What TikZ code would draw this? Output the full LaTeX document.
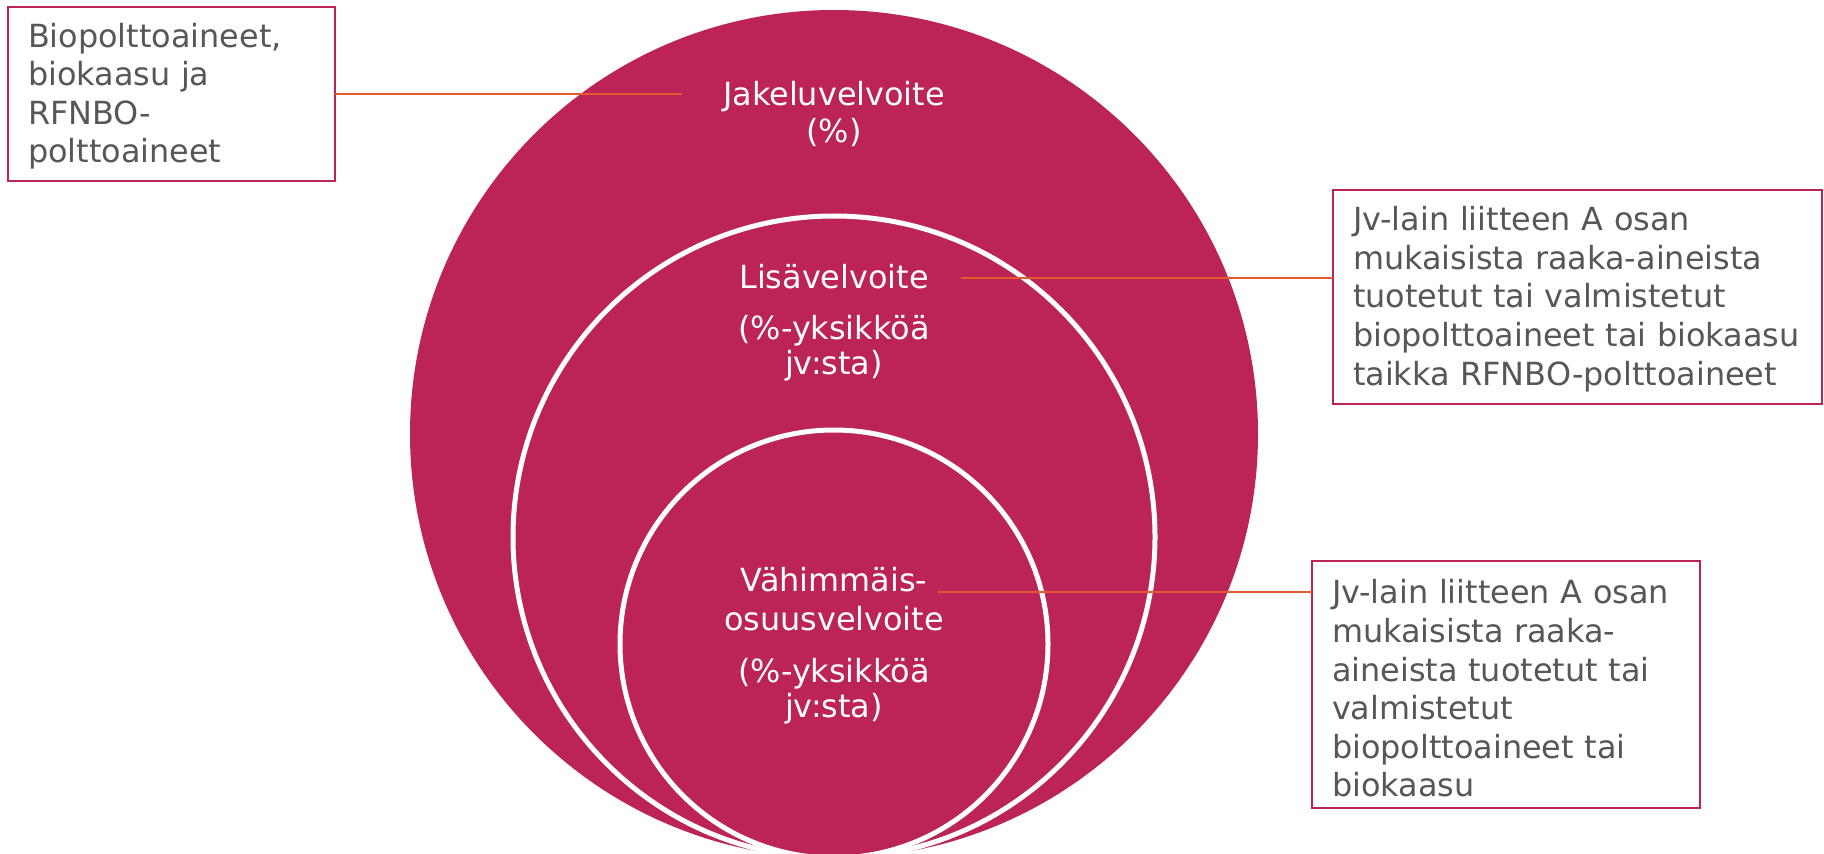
\documentclass[tikz,border=0pt]{standalone}
\usepackage{fontspec}
\setmainfont{DejaVu Sans}
\definecolor{mag}{RGB}{188,35,87}
\definecolor{org}{RGB}{228,90,40}
\definecolor{txt}{RGB}{87,87,87}
\begin{document}
\begin{tikzpicture}[x=1bp,y=-1bp,
  ring/.style={draw=white,line width=5bp},
  lbl/.style={text=white,font=\fontsize{32}{38}\selectfont,inner sep=0pt,anchor=base},
  infobox/.style={draw=mag,line width=2.2bp,fill=white,text=txt,font=\fontsize{32}{38.7}\selectfont,align=left,inner xsep=20bp,inner ysep=0pt,outer sep=0pt,anchor=north west},
  conn/.style={draw=org,line width=2.5bp}]
\useasboundingbox (0,0) rectangle (1824,854);
\clip (0,0) rectangle (1824,854);
\fill[mag] (834,434) circle[radius=424bp];
\draw[ring] (834,537) circle[radius=321bp];
\draw[ring] (834,644) circle[radius=214bp];

\node[lbl] (j1) at (834,105) {Jakeluvelvoite};
\node[lbl] (j2) at (834,142) {(\%)};
\node[lbl] (l1) at (834,288) {Lisävelvoite};
\node[lbl] (l2) at (834,339) {(\%-yksikköä};
\node[lbl] (l3) at (834,374) {jv:sta)};
\node[lbl] (v1) at (834,591) {Vähimmäis-};
\node[lbl] (v2) at (834,630) {osuusvelvoite};
\node[lbl] (v3) at (834,682) {(\%-yksikköä};
\node[lbl] (v4) at (834,717) {jv:sta)};

\node[infobox,text width=287bp,minimum height=174bp] (b1) at (8,7)
  {\rule{0pt}{28.5bp}\mbox{Biopolttoaineet,}\\\mbox{biokaasu ja}\\\mbox{RFNBO-}\\\mbox{polttoaineet}};
\node[infobox,text width=449bp,minimum height=214bp] (b2) at (1333,190)
  {\rule{0pt}{28.5bp}\mbox{Jv-lain liitteen A osan}\\\mbox{mukaisista raaka-aineista}\\\mbox{tuotetut tai valmistetut}\\\mbox{biopolttoaineet tai biokaasu}\\\mbox{taikka RFNBO-polttoaineet}};
\node[infobox,text width=348bp,minimum height=247bp] (b3) at (1312,561)
  {\rule{0pt}{32bp}\mbox{Jv-lain liitteen A osan}\\\mbox{mukaisista raaka-}\\\mbox{aineista tuotetut tai}\\\mbox{valmistetut}\\\mbox{biopolttoaineet tai}\\\mbox{biokaasu}};

\coordinate (e1) at (682,95);
\coordinate (s2) at (961,278);
\coordinate (s3) at (938,592);
\draw[conn] (b1.east) -- (e1 |- b1.east);
\draw[conn] (s2) -- (s2 -| b2.west);
\draw[conn] (s3) -- (s3 -| b3.west);
\end{tikzpicture}
\end{document}
